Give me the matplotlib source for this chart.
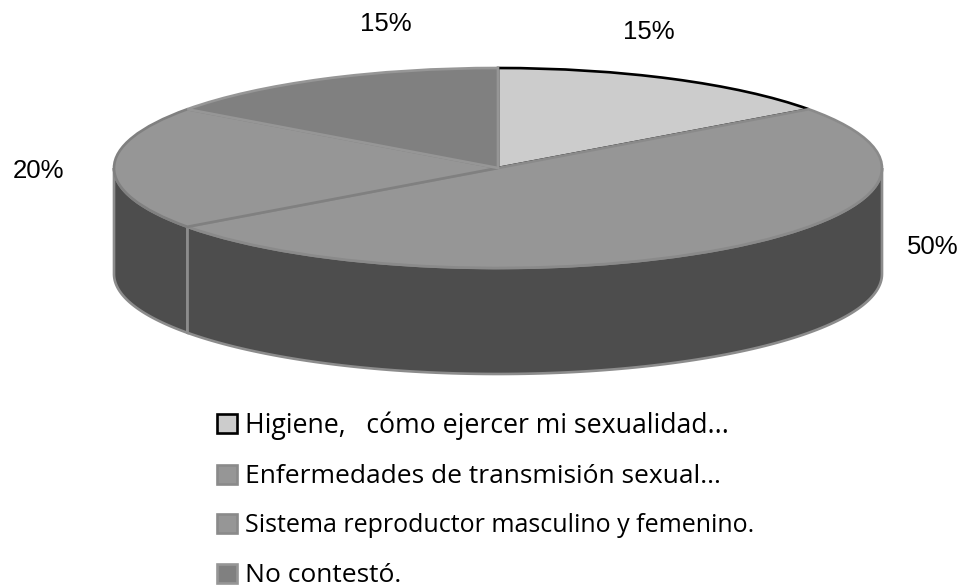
import numpy as np
import matplotlib
matplotlib.use("Agg")
import matplotlib.pyplot as plt
from matplotlib.patches import Rectangle, Polygon

categories = ["Higiene,   cómo ejercer mi sexualidad...",
              "Enfermedades de transmisión sexual...",
              "Sistema reproductor masculino y femenino.",
              "No contestó."]
values = [15, 50, 20, 15]
pct_labels = ["15%", "50%", "20%", "15%"]
top_colors = ["#CCCCCC", "#969696", "#969696", "#808080"]
edge_colors = ["#000000", "#8A8A8A", "#808080", "#969696"]
side_color = "#4D4D4D"
side_edge = "#8C8C8C"
label_px = [(649, 32), (933, 247), (39, 171), (386, 24)]
legend_sizes = [19.2, 19.0, 18.0, 19.0]

W, H = 963, 588
cx, cy, rx, ry, depth = 498, 168, 384, 100, 106

fig = plt.figure(figsize=(W / 100, H / 100), dpi=100, facecolor="white")
ax = fig.add_axes([0, 0, 1, 1])

wedges, _ = ax.pie(values, colors=top_colors, startangle=90, counterclock=False,
                   radius=1, center=(0, 0), normalize=True,
                   wedgeprops=dict(linewidth=1.9))
for w, e in zip(wedges, edge_colors):
    w.set_edgecolor(e)
    w.set_joinstyle("miter")
wedges[0].set_zorder(3)
for i, w in enumerate(wedges[1:], 1):
    w.set_zorder(3 + i)

ax.set_aspect("auto")
ax.set_xlim((0 - cx) / rx, (W - cx) / rx)
ax.set_ylim((cy - H) / ry, cy / ry)
ax.axis("off")

# Front wall of the cylinder, split at the slice boundaries
d = depth / ry
edges = np.cumsum([0] + values) / sum(values) * 360
for a0, a1 in zip(edges[:-1], edges[1:]):
    lo, hi = max(a0, 90), min(a1, 270)
    if hi <= lo:
        continue
    t = np.radians(np.linspace(lo, hi, 120))
    x, y = np.sin(t), np.cos(t)
    pts = np.r_[np.c_[x, y], np.c_[x[::-1], y[::-1] - d]]
    ax.add_patch(Polygon(pts, closed=True, facecolor=side_color, edgecolor=side_edge,
                         linewidth=1.9, zorder=2))

for (px, py), s in zip(label_px, pct_labels):
    ax.text((px - cx) / rx, (cy - py) / ry, s, ha="center", va="center",
            fontsize=18.5, family="Liberation Sans", color="black")

handles = [Rectangle((0, 0), 1, 1, facecolor=f, edgecolor=e, linewidth=1.9)
           for f, e in zip(top_colors, ["#000000", "#8A8A8A", "#8A8A8A", "#969696"])]
leg = fig.legend(handles, categories, loc="upper left", bbox_to_anchor=(207 / W, 1 - 401 / H),
                 frameon=False, prop=dict(family="Open Sans", size=18),
                 handlelength=0.8, handleheight=0.8, handletextpad=0.33,
                 labelspacing=0.98, borderpad=0.4, borderaxespad=0)
for t, s in zip(leg.get_texts(), legend_sizes):
    t.set_color("black")
    t.set_fontsize(s)

fig.savefig("out.png", dpi=100, facecolor="white")
